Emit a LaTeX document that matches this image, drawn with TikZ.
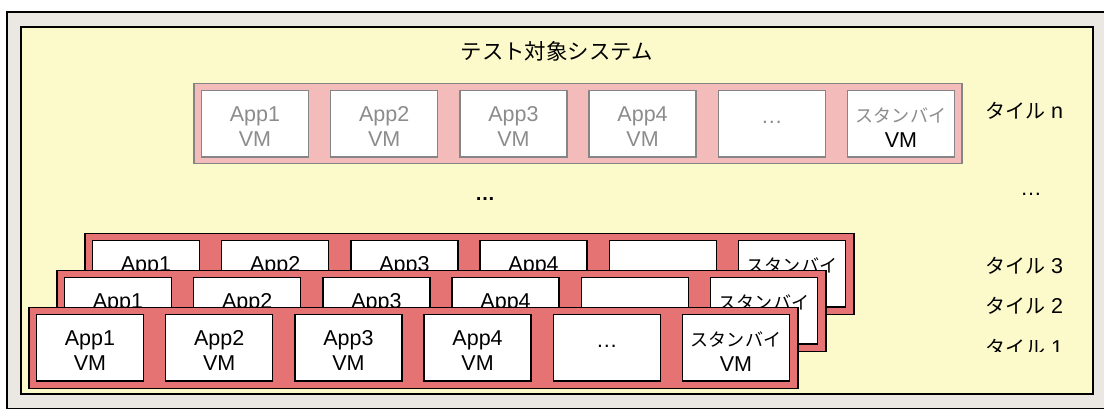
\documentclass[tikz,border=0pt]{standalone}
\usepackage{fontspec}
\setmainfont{Liberation Sans}
\newfontfamily\jp{Noto Sans CJK JP}[Scale=0.84]
\definecolor{outergray}{HTML}{EBE8E4}
\definecolor{sysyellow}{HTML}{FCFACA}
\definecolor{tilered}{HTML}{E57373}
\definecolor{tilepink}{HTML}{F4BBBB}
\definecolor{fadeline}{HTML}{858585}
\definecolor{fadetext}{HTML}{8C8C8C}
\newcommand\vmstrut{\rule{0pt}{20.5pt}}
\newcommand\jpstrut{\rule{0pt}{22.5pt}}
\tikzset{
  outerbox/.style={draw=black, line width=1.5pt, fill=outergray, inner sep=0, outer sep=0},
  sysbox/.style={draw=black, line width=1.5pt, fill=sysyellow, inner sep=0, outer sep=0},
  tilesolid/.style={fill=tilered, draw=black, line width=1.5pt, minimum width=769pt, minimum height=81pt, inner sep=0, outer sep=0},
  tilefaded/.style={fill=tilepink, draw=fadeline, line width=1.5pt, minimum width=768pt, minimum height=80pt, inner sep=0, outer sep=0},
  vmbase/.style={fill=white, line width=1.5pt, minimum width=107pt, minimum height=66.5pt, align=center, font=\fontsize{21.5}{24.5}\selectfont, inner sep=0, outer sep=0},
  vmsolid/.style={vmbase, draw=black, text=black},
  vmfaded/.style={vmbase, draw=fadeline, text=fadetext},
  tilelabel/.style={font=\fontsize{21.5}{24}\selectfont, inner sep=0, text=black},
}
\newcommand\jplabel[1]{{\fontsize{23.8}{26}\selectfont\jp #1}}
\newcommand\tilerow[5]{%
  \node[tile#4, anchor=north west] (#1) at (#2,#3) {};
  \foreach \k in {1,2,3,4}{
    \node[vm#4, anchor=north west] (#1b\k) at ({#2+7.5+(\k-1)*129.2},{#3+7}) {\vmstrut App\k\\VM};
  }
  \node[vm#4, anchor=north west] (#1b5) at ({#2+7.5+4*129.2},{#3+7}) {\raisebox{2pt}{…}};
  \node[vm#4, anchor=north west] (#1b6) at ({#2+7.5+5*129.2},{#3+7}) {\jpstrut{\jp スタンバイ}\\\textcolor{#5}{VM}};
}
\begin{document}
\begin{tikzpicture}[x=1pt,y=-1pt]
\useasboundingbox (0,0) rectangle (1104,410);
\begin{scope}
  \clip (0,0) rectangle (1104,410);
  \node[outerbox, anchor=north west, minimum width=1103pt, minimum height=396.5pt] (outer) at (7,12) {};
\end{scope}
\node[sysbox, anchor=north west, minimum width=1072pt, minimum height=367pt] (sys) at (21,27) {};
\node[font=\fontsize{25.5}{28}\selectfont\jp, inner sep=0] (title) at (556.7,51.7) {テスト対象システム};

\tilerow{tn}{194}{83.5}{faded}{black}
\node[font=\fontsize{20}{24}\selectfont\bfseries, inner sep=0] (vdots) at (485,199) {…};

\tilerow{t3}{85}{233.5}{solid}{black}
\tilerow{t2}{57}{270.5}{solid}{black}
\tilerow{t1}{29}{307.5}{solid}{black}

\node[tilelabel] (ln) at (1024,111) {\jplabel{タイル} n};
\node[tilelabel] (ldots) at (1031,194.3) {…};
\node[tilelabel] (l3) at (1024,266) {\jplabel{タイル} 3};
\node[tilelabel] (l2) at (1024,306) {\jplabel{タイル} 2};
\begin{scope}
  \clip (980,330) rectangle (1070,351.5);
  \node[tilelabel] (l1) at (1024,347.5) {\jplabel{タイル} 1};
\end{scope}
\end{tikzpicture}
\end{document}
